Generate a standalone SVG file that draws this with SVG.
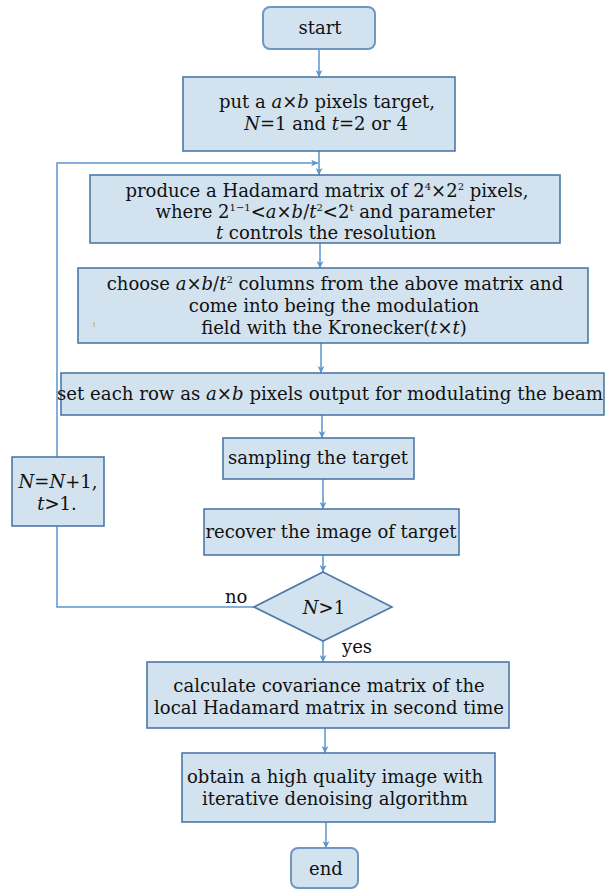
<svg xmlns="http://www.w3.org/2000/svg" width="605" height="890" viewBox="0 0 605 890">
<defs>
<marker id="ah" viewBox="0 0 10 10" refX="10" refY="5" markerWidth="9" markerHeight="7" markerUnits="userSpaceOnUse" orient="auto">
<path d="M0,0 L10,5 L0,10 L3,5 Z" fill="#5b95cf"/>
</marker>
<style>
.box{fill:#d2e2ef;stroke:#4c78a8;stroke-width:1.6}
.term{fill:#d2e2ef;stroke:#6f97c2;stroke-width:2}
.t{font-family:"DejaVu Serif","Liberation Serif",serif;font-size:18px;fill:#111;text-anchor:middle}
.tl{font-family:"DejaVu Serif","Liberation Serif",serif;font-size:18px;fill:#111}
.i{font-style:italic}
.sup{font-size:10px}
.c{fill:none;stroke:#5b95cf;stroke-width:1.5}
</style>
</defs>
<g id="connectors">
<line class="c" x1="319" y1="49" x2="319" y2="77" marker-end="url(#ah)"/>
<line class="c" x1="319" y1="151" x2="319" y2="175" marker-end="url(#ah)"/>
<polyline class="c" points="254,607 57,607 57,163 318,163" marker-end="url(#ah)"/>
<line class="c" x1="320" y1="243" x2="320" y2="268" marker-end="url(#ah)"/>
<line class="c" x1="321" y1="343" x2="321" y2="373" marker-end="url(#ah)"/>
<line class="c" x1="322" y1="415" x2="322" y2="438" marker-end="url(#ah)"/>
<line class="c" x1="323" y1="479" x2="323" y2="509" marker-end="url(#ah)"/>
<line class="c" x1="323" y1="555" x2="323" y2="572" marker-end="url(#ah)"/>
<line class="c" x1="323" y1="641" x2="323" y2="662" marker-end="url(#ah)"/>
<line class="c" x1="325" y1="728" x2="325" y2="753" marker-end="url(#ah)"/>
<line class="c" x1="326" y1="822" x2="326" y2="848" marker-end="url(#ah)"/>
<text class="tl" x="225" y="603">no</text>
<text class="tl" x="342" y="653">yes</text>
</g>
<g id="start">
<rect class="term" x="263" y="7" width="112" height="42" rx="7"/>
<text class="t" x="320" y="34">start</text>
</g>
<g id="init">
<rect class="box" x="183" y="77" width="272" height="74"/>
<text class="t" x="327" y="108">put a <tspan class="i">a</tspan>×<tspan class="i">b</tspan> pixels target,</text>
<text class="t" x="326" y="130"><tspan class="i">N</tspan>=1 and <tspan class="i">t</tspan>=2 or 4</text>
</g>
<g id="hadamard">
<rect class="box" x="90" y="175" width="470" height="68"/>
<text class="t" x="327" y="197">produce a Hadamard matrix of 2<tspan class="sup" dy="-7">4</tspan><tspan dy="7">×2</tspan><tspan class="sup" dy="-7">2</tspan><tspan dy="7"> pixels,</tspan></text>
<text class="t" x="325" y="218">where 2<tspan class="sup" dy="-7">1−1</tspan><tspan dy="7">&lt;</tspan><tspan class="i">a</tspan>×<tspan class="i">b</tspan>/<tspan class="i">t</tspan><tspan class="sup" dy="-7">2</tspan><tspan dy="7">&lt;2</tspan><tspan class="sup" dy="-7">t</tspan><tspan dy="7"> and parameter</tspan></text>
<text class="t" x="326" y="239"><tspan class="i">t</tspan> controls the resolution</text>
</g>
<g id="choose">
<rect class="box" x="78" y="268" width="510" height="75"/>
<text class="t" x="335" y="290">choose <tspan class="i">a</tspan>×<tspan class="i">b</tspan>/<tspan class="i">t</tspan><tspan class="sup" dy="-7">2</tspan><tspan dy="7"> columns from the above matrix and</tspan></text>
<text class="t" x="334" y="312">come into being the modulation</text>
<text class="t" x="334" y="334">field with the Kronecker(<tspan class="i">t</tspan>×<tspan class="i">t</tspan>)</text>
<line x1="94" y1="322" x2="94" y2="327" stroke="#c9a46a" stroke-width="1"/>
</g>
<g id="setrow">
<rect class="box" x="61" y="373" width="543" height="42"/>
<text class="t" x="330" y="400" textLength="546" lengthAdjust="spacingAndGlyphs">set each row as <tspan class="i">a</tspan>×<tspan class="i">b</tspan> pixels output for modulating the beam</text>
</g>
<g id="sampling">
<rect class="box" x="223" y="438" width="191" height="41"/>
<text class="t" x="318" y="464">sampling the target</text>
</g>
<g id="recover">
<rect class="box" x="204" y="509" width="255" height="46"/>
<text class="t" x="331" y="538">recover the image of target</text>
</g>
<g id="update">
<rect class="box" x="12" y="457" width="92" height="69"/>
<text class="t" x="58" y="488"><tspan class="i">N</tspan>=<tspan class="i">N</tspan>+1,</text>
<text class="t" x="57" y="510"><tspan class="i">t</tspan>&gt;1.</text>
</g>
<g id="decision">
<polygon class="box" points="323,572 392,607 323,641 254,607"/>
<text class="t" x="324" y="614"><tspan class="i">N</tspan>&gt;1</text>
</g>
<g id="covariance">
<rect class="box" x="147" y="662" width="362" height="66"/>
<text class="t" x="329" y="692">calculate covariance matrix of the</text>
<text class="t" x="329" y="714">local Hadamard matrix in second time</text>
</g>
<g id="denoise">
<rect class="box" x="182" y="753" width="313" height="69"/>
<text class="t" x="335" y="783">obtain a high quality image with</text>
<text class="t" x="335" y="805">iterative denoising algorithm</text>
</g>
<g id="end">
<rect class="term" x="291" y="848" width="67" height="40" rx="7"/>
<text class="t" x="326" y="875">end</text>
</g>
</svg>
